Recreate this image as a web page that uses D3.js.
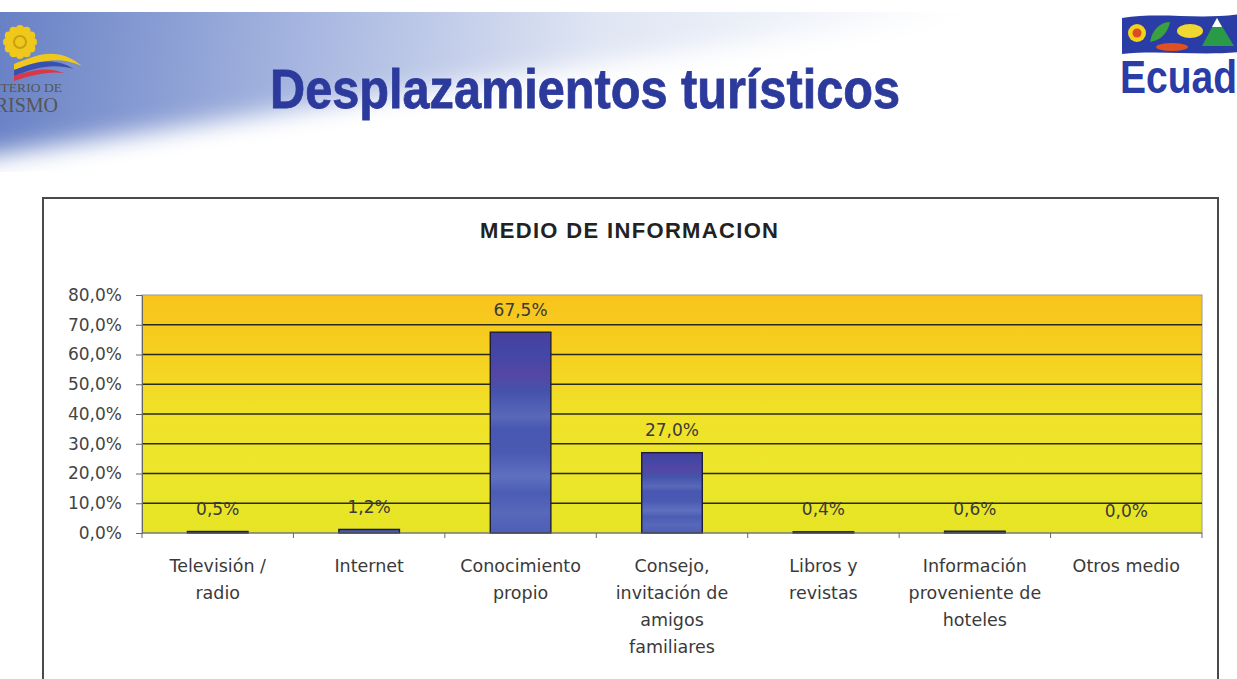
<!DOCTYPE html>
<html>
<head>
<meta charset="utf-8">
<script src="https://cdn.jsdelivr.net/npm/d3@7/dist/d3.min.js"></script>
<style>
  html, body { margin: 0; padding: 0; background: #ffffff; overflow: hidden; }
  svg { display: block; }
</style>
</head>
<body>
<svg id="chart" width="1237" height="679"></svg>
<script>
// Categories and shares of each information source
const categories = [
  ["Televisión /", "radio"],
  ["Internet"],
  ["Conocimiento", "propio"],
  ["Consejo,", "invitación de", "amigos", "familiares"],
  ["Libros y", "revistas"],
  ["Información", "proveniente de", "hoteles"],
  ["Otros medio"]
];
const values = [0.5, 1.2, 67.5, 27.0, 0.4, 0.6, 0.0];
const yTicks = [0, 10, 20, 30, 40, 50, 60, 70, 80];

const pageTitle = "Desplazamientos turísticos";
const chartTitle = "MEDIO DE INFORMACION";

const fmt = v => v.toFixed(1).replace(".", ",") + "%";
const labelFont = "DejaVu Sans, Verdana, sans-serif";

const svg = d3.select("#chart");
const defs = svg.append("defs");

// ---------- header banner ----------
const hdr = defs.append("linearGradient").attr("id", "hdrGrad")
  .attr("gradientUnits", "userSpaceOnUse")
  .attr("x1", 0).attr("y1", 12).attr("x2", 950).attr("y2", 140);
[[0, "#6881c5"], [0.3, "#a3b3df"], [0.62, "#dfe5f3"], [1, "#ffffff"]]
  .forEach(([o, c]) => hdr.append("stop").attr("offset", o).attr("stop-color", c));

const soft = defs.append("filter").attr("id", "soft")
  .attr("x", "-20%").attr("y", "-50%").attr("width", "140%").attr("height", "200%");
soft.append("feGaussianBlur").attr("stdDeviation", 12);

svg.append("rect").attr("x", 0).attr("y", 12).attr("width", 1237).attr("height", 160)
  .attr("fill", "url(#hdrGrad)");
// white sweep cutting diagonally across the lower part of the banner
svg.append("path")
  .attr("d", "M-60,162 C300,112 700,40 1060,6 L1320,6 L1320,210 L-60,210 Z")
  .attr("fill", "#ffffff").attr("filter", "url(#soft)");
svg.append("rect").attr("x", 0).attr("y", 0).attr("width", 1237).attr("height", 12).attr("fill", "#ffffff");

// left emblem: sun, flag ribbon and lettering
const sun = svg.append("g").attr("transform", "translate(20,42)");
d3.range(12).forEach(i => {
  const a = i * Math.PI / 6;
  sun.append("circle").attr("cx", Math.cos(a) * 13).attr("cy", Math.sin(a) * 13)
    .attr("r", 4).attr("fill", "#f0c81c");
});
sun.append("circle").attr("r", 12).attr("fill", "#f0c81c");
sun.append("circle").attr("r", 6).attr("fill", "none").attr("stroke", "#c9a010").attr("stroke-width", 2);
svg.append("path").attr("d", "M14,64 C38,54 58,46 82,66 C60,56 40,60 14,70 Z").attr("fill", "#f0c81c");
svg.append("path").attr("d", "M14,70 C38,61 54,57 74,69 C54,63 36,67 14,76 Z").attr("fill", "#3850b0");
svg.append("path").attr("d", "M14,76 C34,69 48,67 64,73 C48,71 32,75 14,81 Z").attr("fill", "#d83848");
svg.append("text").attr("x", 62).attr("y", 92).attr("text-anchor", "end")
  .attr("font-family", "Liberation Serif, serif").attr("font-size", 13)
  .attr("fill", "#555").attr("textLength", 100).attr("lengthAdjust", "spacingAndGlyphs")
  .text("MINISTERIO DE");
svg.append("text").attr("x", 58).attr("y", 112).attr("text-anchor", "end")
  .attr("font-family", "Liberation Serif, serif").attr("font-size", 20)
  .attr("fill", "#555").text("TURISMO");

// right emblem: colourful band and wordmark
const band = svg.append("g");
band.append("path").attr("d", "M1122,18 C1160,12 1200,20 1240,14 L1240,52 C1200,56 1160,50 1122,54 Z")
  .attr("fill", "#2a3ca6");
band.append("circle").attr("cx", 1137).attr("cy", 33).attr("r", 9).attr("fill", "#f2d21a");
band.append("circle").attr("cx", 1137).attr("cy", 33).attr("r", 4.5).attr("fill", "#e04a20");
band.append("path").attr("d", "M1150,42 C1152,30 1160,22 1170,22 C1168,32 1162,40 1150,42 Z").attr("fill", "#3aa040");
band.append("ellipse").attr("cx", 1190).attr("cy", 31).attr("rx", 13).attr("ry", 7).attr("fill", "#f0d830");
band.append("path").attr("d", "M1202,46 L1217,18 L1234,46 Z").attr("fill", "#2a9a48");
band.append("path").attr("d", "M1212,27 L1217,18 L1222,27 Z").attr("fill", "#ffffff");
band.append("ellipse").attr("cx", 1172).attr("cy", 47).attr("rx", 16).attr("ry", 4).attr("fill", "#e05020");
svg.append("text").attr("x", 1120).attr("y", 93)
  .attr("font-family", "Liberation Sans, Arial, sans-serif").attr("font-weight", "bold")
  .attr("font-size", 46).attr("fill", "#2a3ca6")
  .attr("textLength", 156).attr("lengthAdjust", "spacingAndGlyphs")
  .text("Ecuador");

// page title
svg.append("text").attr("x", 270).attr("y", 108)
  .attr("font-family", "Liberation Sans, Arial, sans-serif").attr("font-weight", "bold")
  .attr("font-size", 56).attr("fill", "#2c3a9c")
  .attr("stroke", "#2c3a9c").attr("stroke-width", 0.8)
  .attr("textLength", 630).attr("lengthAdjust", "spacingAndGlyphs")
  .text(pageTitle);

// ---------- chart frame ----------
svg.append("rect").attr("x", 43).attr("y", 198).attr("width", 1175).attr("height", 520)
  .attr("fill", "#ffffff").attr("stroke", "#4a4a4a").attr("stroke-width", 2);

svg.append("text").attr("x", 480).attr("y", 238)
  .attr("font-family", "Liberation Sans, Arial, sans-serif").attr("font-weight", "bold")
  .attr("font-size", 22).attr("fill", "#222")
  .attr("textLength", 298).attr("lengthAdjust", "spacing")
  .text(chartTitle);

const plot = { left: 142, right: 1202, top: 295, bottom: 533 };

const x = d3.scaleBand()
  .domain(d3.range(categories.length))
  .range([plot.left, plot.right])
  .paddingInner(0.6).paddingOuter(0.3);
const y = d3.scaleLinear().domain([0, 80]).range([plot.bottom, plot.top]);

// plot background gradient (orange at the top fading to yellow)
const bg = defs.append("linearGradient").attr("id", "bgGrad")
  .attr("x1", 0).attr("y1", 0).attr("x2", 0).attr("y2", 1);
[[0, "#f8c41c"], [0.25, "#f6d020"], [0.5, "#f0e228"], [0.75, "#ece62a"], [1, "#e6e424"]]
  .forEach(([o, c]) => bg.append("stop").attr("offset", o).attr("stop-color", c));

svg.append("rect").attr("x", plot.left).attr("y", plot.top)
  .attr("width", plot.right - plot.left).attr("height", plot.bottom - plot.top)
  .attr("fill", "url(#bgGrad)").attr("stroke", "#9a9a9a").attr("stroke-width", 1);

// gridlines
svg.append("g").selectAll("line").data(yTicks.filter(t => t > 0 && t < 80)).join("line")
  .attr("x1", plot.left).attr("x2", plot.right)
  .attr("y1", d => y(d)).attr("y2", d => y(d))
  .attr("stroke", "#2a2a1a").attr("stroke-width", 1.3);

// bars
const barGrad = defs.append("linearGradient").attr("id", "barGrad")
  .attr("x1", 0).attr("y1", 0).attr("x2", 0).attr("y2", 1);
[[0, "#4a3e9c"], [0.1, "#4247a6"], [0.2, "#5446a4"], [0.3, "#4553ab"], [0.42, "#5a68ba"],
 [0.48, "#4858b2"], [0.6, "#4a5ab2"], [0.72, "#5f70c0"], [0.8, "#4b5cb4"], [0.9, "#5868ba"], [1, "#4c5eb6"]]
  .forEach(([o, c]) => barGrad.append("stop").attr("offset", o).attr("stop-color", c));

svg.append("g").selectAll("rect").data(values).join("rect")
  .attr("x", (d, i) => x(i))
  .attr("width", x.bandwidth())
  .attr("y", d => y(d))
  .attr("height", d => y(0) - y(d))
  .attr("fill", "url(#barGrad)")
  .attr("stroke", d => d > 0 ? "#1e1e3a" : "none")
  .attr("stroke-width", 1.4);

// value labels
svg.append("g").selectAll("text").data(values).join("text")
  .attr("x", (d, i) => x(i) + x.bandwidth() / 2)
  .attr("y", d => y(d) - 16.5)
  .attr("text-anchor", "middle")
  .attr("font-family", labelFont)
  .attr("font-size", 17).attr("fill", "#3a3a3a")
  .text(d => fmt(d));

// y axis
const yAxis = svg.append("g").attr("transform", `translate(${plot.left},0)`)
  .call(d3.axisLeft(y).tickValues(yTicks).tickSize(6).tickPadding(14).tickFormat(fmt));
yAxis.selectAll("text").attr("font-family", labelFont)
  .attr("font-size", 17).attr("fill", "#444");
yAxis.selectAll("line, path").attr("stroke", "#666");

// x axis with ticks at category boundaries
const step = x.step();
const bounds = d3.range(categories.length + 1).map(i => plot.left + i * step);
svg.append("line").attr("x1", plot.left).attr("x2", plot.right)
  .attr("y1", plot.bottom).attr("y2", plot.bottom).attr("stroke", "#666").attr("stroke-width", 1.2);
svg.append("g").selectAll("line").data(bounds).join("line")
  .attr("x1", d => d).attr("x2", d => d)
  .attr("y1", plot.bottom).attr("y2", plot.bottom + 5)
  .attr("stroke", "#666");

// category labels
const catG = svg.append("g");
categories.forEach((lines, i) => {
  const cx = x(i) + x.bandwidth() / 2;
  const t = catG.append("text")
    .attr("x", cx)
    .attr("y", 572)
    .attr("text-anchor", "middle")
    .attr("font-family", labelFont)
    .attr("font-size", 17.5).attr("fill", "#3a3a3a");
  lines.forEach((ln, j) => {
    t.append("tspan").attr("x", cx).attr("dy", j === 0 ? 0 : 27).text(ln);
  });
});
</script>
</body>
</html>
